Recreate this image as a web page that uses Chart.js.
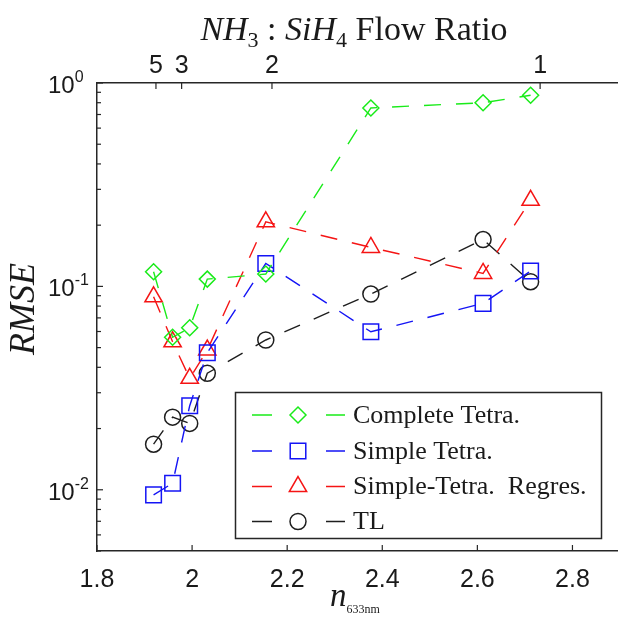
<!DOCTYPE html>
<html>
<head>
    <title>RMSE vs n633</title>
    <script src="https://cdn.jsdelivr.net/npm/chart.js"></script>
    <style>
        body {
            margin: 0;
            background: #fff;
            overflow: hidden;
        }
        #chart {
            display: block;
        }
    </style>
</head>
<body>
    <canvas id="chart" width="620" height="621"></canvas>

    <script>
const nValues = [1.919, 1.959, 1.995, 2.032, 2.155, 2.376, 2.612, 2.712];
const completeTetra = [0.118, 0.0562, 0.0626, 0.1086, 0.115, 0.754, 0.80, 0.87];
const simpleTetra = [0.00944, 0.01077, 0.0259, 0.0472, 0.1297, 0.0598, 0.0825, 0.119];
const simpleRegres = [0.0889, 0.0534, 0.0353, 0.0486, 0.2076, 0.1555, 0.1158, 0.265];
const tlValues = [0.01675, 0.02275, 0.0212, 0.0374, 0.0545, 0.0917, 0.170, 0.1054];

const seriesNames = ["Complete Tetra.", "Simple Tetra.", "Simple-Tetra.  Regres.", "TL"];

const xTicks = [1.8, 2, 2.2, 2.4, 2.6, 2.8];
const xTickLabels = ["1.8", "2", "2.2", "2.4", "2.6", "2.8"];
const ratioTickPos = [1.924, 1.978, 2.168, 2.732];
const ratioTickLabels = ["5", "3", "2", "1"];
const yDecades = [-2, -1, 0];
const yDecadeLabels = ["-2", "-1", "0"];

const green = "rgb(25,235,25)";
const blue = "rgb(20,20,245)";
const red = "rgb(245,20,20)";
const black = "rgb(30,30,30)";
const axisColor = "#262626";

function toPoints(ys) {
    return nValues.map((x, i) => ({ x: x, y: ys[i] }));
}

function makeSet(label, ys, color, style, radius) {
    return {
        label: label,
        data: toPoints(ys),
        borderColor: color,
        backgroundColor: "transparent",
        borderWidth: 1.4,
        borderDash: [17, 15],
        pointStyle: style,
        pointRadius: radius,
        pointHoverRadius: radius,
        pointBorderColor: color,
        pointBackgroundColor: "transparent",
        pointBorderWidth: 1.5,
        showLine: true,
        tension: 0
    };
}

// draw text made of pieces with different fonts / offsets
function drawParts(ctx, parts, x, y, align) {
    let w = 0;
    parts.forEach(p => { ctx.font = p[1]; w += ctx.measureText(p[0]).width; });
    let cx = x;
    if (align === "center") cx = x - w / 2;
    if (align === "right") cx = x - w;
    ctx.textAlign = "left";
    ctx.textBaseline = "alphabetic";
    parts.forEach(p => {
        ctx.font = p[1];
        ctx.fillText(p[0], cx, y + (p[2] || 0));
        cx += ctx.measureText(p[0]).width;
    });
}

function drawMarker(ctx, style, x, y, r) {
    ctx.beginPath();
    if (style === "rectRot") {
        ctx.moveTo(x - r, y); ctx.lineTo(x, y - r); ctx.lineTo(x + r, y); ctx.lineTo(x, y + r);
        ctx.closePath();
    } else if (style === "rect") {
        const s = r * Math.SQRT1_2;
        ctx.rect(x - s, y - s, 2 * s, 2 * s);
    } else if (style === "triangle") {
        for (let k = 0; k < 3; k++) {
            const a = k * 2 * Math.PI / 3;
            const px = x + Math.sin(a) * r, py = y - Math.cos(a) * r;
            if (k === 0) ctx.moveTo(px, py); else ctx.lineTo(px, py);
        }
        ctx.closePath();
    } else {
        ctx.arc(x, y, r, 0, Math.PI * 2);
    }
    ctx.stroke();
}

const serif = "'Liberation Serif', 'DejaVu Serif', serif";
const sans = "'Liberation Sans', Arial, sans-serif";

const decorPlugin = {
    id: "decor",
    afterDraw(chart) {
        const ctx = chart.ctx;
        const xs = chart.scales.x;
        const ys = chart.scales.y;
        const top = chart.chartArea.top;
        const bottom = chart.chartArea.bottom;
        const left = chart.chartArea.left;
        ctx.save();
        ctx.strokeStyle = axisColor;
        ctx.fillStyle = "#1a1a1a";
        ctx.lineWidth = 1.2;
        ctx.setLineDash([]);

        // bottom ticks + labels
        xTicks.forEach((v, i) => {
            const px = xs.getPixelForValue(v);
            ctx.beginPath(); ctx.moveTo(px, bottom); ctx.lineTo(px, bottom - 6); ctx.stroke();
            ctx.font = "25px " + sans;
            ctx.textAlign = "center"; ctx.textBaseline = "middle";
            ctx.fillText(xTickLabels[i], px, bottom + 29);
        });

        // top ratio ticks + labels
        ratioTickPos.forEach((v, i) => {
            const px = xs.getPixelForValue(v);
            ctx.beginPath(); ctx.moveTo(px, top); ctx.lineTo(px, top + 6); ctx.stroke();
            ctx.font = "25px " + sans;
            ctx.textAlign = "center"; ctx.textBaseline = "middle";
            ctx.fillText(ratioTickLabels[i], px, top - 17);
        });

        // left log ticks
        for (let d = -3; d <= 0; d++) {
            for (let m = 1; m <= 9; m++) {
                const v = m * Math.pow(10, d);
                if (v < ys.min - 1e-9 || v > ys.max + 1e-9) continue;
                const py = ys.getPixelForValue(v);
                const len = m === 1 ? 6 : 4;
                ctx.beginPath(); ctx.moveTo(left, py); ctx.lineTo(left + len, py); ctx.stroke();
            }
        }
        yDecades.forEach((d, i) => {
            const py = ys.getPixelForValue(Math.pow(10, d));
            drawParts(ctx, [["10", "24px " + sans], [yDecadeLabels[i], "16px " + sans, -11]], 48, py + 10, "left");
        });

        // title on top
        const big = "34px " + serif;
        const bigI = "italic 34px " + serif;
        const small = "22px " + serif;
        drawParts(ctx, [["NH", bigI], ["3", small, 7], [" : ", big], ["SiH", bigI], ["4", small, 7], [" Flow Ratio", big]], 354, 40, "center");

        // x axis title
        drawParts(ctx, [["n", "italic 33px " + serif], ["633nm", "12px " + serif, 7]], 355, 606, "center");

        // y axis title
        ctx.save();
        ctx.translate(34, 309);
        ctx.rotate(-Math.PI / 2);
        drawParts(ctx, [["RMSE", "italic 36px " + serif]], 0, 0, "center");
        ctx.restore();

        // legend
        const bx = 235.5, by = 392.5, bw = 366, bh = 146;
        ctx.fillStyle = "#fff";
        ctx.fillRect(bx, by, bw, bh);
        ctx.lineWidth = 1.5;
        ctx.strokeStyle = axisColor;
        ctx.strokeRect(bx, by, bw, bh);
        const rowY = [415, 451, 486.5, 521.5];
        chart.data.datasets.forEach((ds, i) => {
            const y = rowY[i];
            ctx.strokeStyle = ds.borderColor;
            ctx.lineWidth = 1.4;
            ctx.beginPath();
            ctx.moveTo(252, y); ctx.lineTo(272, y);
            ctx.moveTo(326, y); ctx.lineTo(345, y);
            ctx.stroke();
            ctx.lineWidth = 1.5;
            drawMarker(ctx, ds.pointStyle, 298, y, ds.pointRadius);
            ctx.fillStyle = "#1a1a1a";
            ctx.font = "26px " + serif;
            ctx.textAlign = "left"; ctx.textBaseline = "middle";
            ctx.fillText(ds.label, 353, y + 1);
        });
        ctx.restore();
    }
};

new Chart(document.getElementById("chart"), {
    type: "scatter",
    data: {
        datasets: [
            makeSet(seriesNames[0], completeTetra, green, "rectRot", 8),
            makeSet(seriesNames[1], simpleTetra, blue, "rect", 11),
            makeSet(seriesNames[2], simpleRegres, red, "triangle", 10),
            makeSet(seriesNames[3], tlValues, black, "circle", 8)
        ]
    },
    options: {
        responsive: false,
        animation: false,
        layout: { autoPadding: false, padding: { left: 97, top: 83, right: 0, bottom: 70 } },
        plugins: {
            legend: { display: false },
            tooltip: { enabled: false },
            title: { display: false }
        },
        scales: {
            x: {
                type: "linear",
                position: "bottom",
                min: 1.8,
                max: 2.9,
                grid: { display: false, drawTicks: false },
                border: { display: true, color: axisColor, width: 1.5 },
                ticks: { display: false }
            },
            x2: {
                type: "linear",
                position: "top",
                min: 1.8,
                max: 2.9,
                grid: { display: false, drawTicks: false },
                border: { display: true, color: axisColor, width: 1.5 },
                ticks: { display: false }
            },
            y: {
                type: "logarithmic",
                min: 0.005,
                max: 1,
                grid: { display: false, drawTicks: false },
                border: { display: true, color: axisColor, width: 1.5 },
                ticks: { display: false }
            }
        }
    },
    plugins: [decorPlugin]
});
    </script>
</body>
</html>
